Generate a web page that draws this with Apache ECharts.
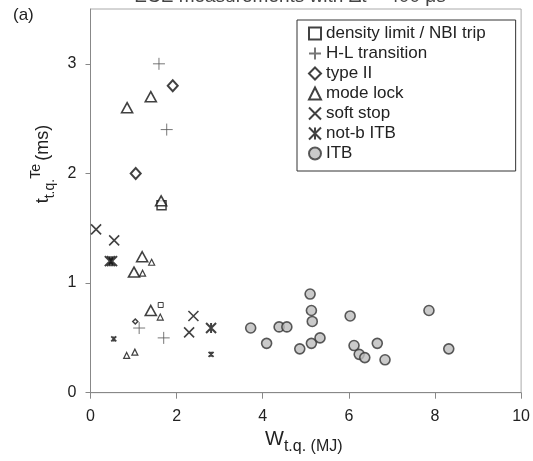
<!DOCTYPE html>
<html><head><meta charset="utf-8">
<script src="https://cdn.jsdelivr.net/npm/echarts@6/dist/echarts.min.js"></script>
<style>html,body{margin:0;padding:0;background:#fff}#c{width:533px;height:461px}</style>
</head><body><div id="c"></div>
<script>
// ---- data (W_tq in MJ, t_tq in ms) ----
const xTicks = [0, 2, 4, 6, 8, 10];
const yTicks = [0, 1, 2, 3];
const legendNames = ['density limit / NBI trip', 'H-L transition', 'type II', 'mode lock', 'soft stop', 'not-b ITB', 'ITB'];

const densityLimit = [[1.65, 1.71]];
const densityLimitSmall = [[1.63, 0.80]];
const hlTransition = [[1.59, 3.0], [1.77, 2.40], [1.13, 0.59], [1.70, 0.50]];
const typeII = [[1.91, 2.80], [1.05, 2.0]];
const typeIISmall = [[1.04, 0.65]];
const modeLock = [[1.40, 2.70], [0.85, 2.60], [1.64, 1.75], [1.20, 1.24], [1.01, 1.10], [1.40, 0.75]];
const modeLockSmall = [[1.42, 1.19], [1.21, 1.09], [1.62, 0.69], [0.84, 0.34], [1.03, 0.37]];
const softStop = [[0.13, 1.49], [0.55, 1.39], [2.39, 0.70], [2.29, 0.55]];
const notBITB = [[0.45, 1.20], [0.50, 1.20], [2.80, 0.59]];
const notBITBSmall = [[0.54, 0.49], [2.80, 0.35]];
const itb = [[3.72, 0.59], [4.09, 0.45], [4.38, 0.60], [4.56, 0.60], [4.86, 0.40], [5.10, 0.90],
  [5.13, 0.75], [5.15, 0.65], [5.13, 0.45], [5.33, 0.50], [6.03, 0.70], [6.12, 0.43],
  [6.24, 0.35], [6.37, 0.32], [6.66, 0.45], [6.84, 0.30], [7.86, 0.75], [8.32, 0.40]];

// ---- chart ----
const FONT = '"Liberation Sans", Arial, sans-serif';
const INK = '#111';
const PLUS = 'path://M0,5L10,5M5,0L5,10';
const CROSS = 'path://M0,0L10,10M10,0L0,10';
const STAR = 'path://M0,0L10,10M10,0L0,10M5,0L5,10';

function sc(name, data, symbol, size, style) {
  return { type: 'scatter', name, data, symbol, symbolSize: size, itemStyle: style,
    emphasis: { disabled: true }, z: 3 };
}
const hollow = (w) => ({ color: '#fff', borderColor: INK, borderWidth: w });
const stroke = (w, c) => ({ color: 'transparent', borderColor: c || INK, borderWidth: w });

const chart = echarts.init(document.getElementById('c'), null, { renderer: 'canvas' });
chart.setOption({
  animation: false,
  backgroundColor: '#fff',
  textStyle: { fontFamily: FONT },
  grid: { left: 90.5, right: 11.5, top: 9, bottom: 68.3, show: true, borderColor: '#aaa', borderWidth: 1 },
  xAxis: {
    type: 'value', min: 0, max: 10, interval: 2,
    splitLine: { show: false },
    axisLine: { lineStyle: { color: '#888', width: 1 } },
    axisTick: { show: true, length: 6, lineStyle: { color: '#888' } },
    axisLabel: { fontSize: 16, color: '#222', margin: 16, fontFamily: FONT,
      customValues: xTicks },
    name: '{w|W}{s|t.q. (MJ)}',
    nameLocation: 'middle', nameGap: 36,
    nameTextStyle: { padding: [0, 4, 0, 0], rich: {
      w: { fontSize: 20, color: '#222', fontFamily: FONT, verticalAlign: 'top', lineHeight: 25 },
      s: { fontSize: 16, color: '#222', fontFamily: FONT, verticalAlign: 'bottom', lineHeight: 25 }
    } }
  },
  yAxis: {
    type: 'value', min: 0, max: 3.5, interval: 1,
    splitLine: { show: false },
    axisLine: { lineStyle: { color: '#888', width: 1 } },
    axisTick: { show: true, length: 5, lineStyle: { color: '#888' }, customValues: yTicks },
    axisLabel: { fontSize: 16, color: '#222', margin: 14, fontFamily: FONT, customValues: yTicks }
  },
  legend: {
    data: legendNames,
    orient: 'vertical', left: 297, top: 20,
    itemWidth: 12, itemHeight: 12, itemGap: 3,
    padding: [5, 30, 9, 11],
    borderColor: '#333', borderWidth: 1,
    backgroundColor: '#fff',
    textStyle: { fontSize: 17, color: '#222', fontFamily: FONT },
    selectedMode: false
  },
  graphic: [
    { type: 'text', left: 13, top: 7, style: { text: '(a)', fontSize: 17, fill: '#222', fontFamily: FONT } },
    { type: 'text', x: 290, y: 6, style: { text: 'ECE measurements with \u0394t = 400 \u03bcs', fontSize: 19,
      fill: '#444', fontFamily: FONT, align: 'center', verticalAlign: 'bottom' } },
    { type: 'text', x: 57, y: 164, rotation: Math.PI / 2,
      style: { text: '{t|t}{s|t.q.}{u|Te} {m|(ms)}', align: 'center', verticalAlign: 'bottom',
        rich: {
          t: { fontSize: 18, fill: '#222', fontFamily: FONT, verticalAlign: 'middle', lineHeight: 28 },
          s: { fontSize: 14, fill: '#222', fontFamily: FONT, verticalAlign: 'bottom', lineHeight: 28 },
          u: { fontSize: 14, fill: '#222', fontFamily: FONT, verticalAlign: 'top', lineHeight: 28 },
          m: { fontSize: 18, fill: '#222', fontFamily: FONT, verticalAlign: 'middle', lineHeight: 28 }
        } } }
  ],
  series: [
    sc('density limit / NBI trip', densityLimit, 'rect', 9, hollow(1.5)),
    sc('density limit (small)', densityLimitSmall, 'rect', 5, hollow(1)),
    sc('H-L transition', hlTransition, PLUS, 12, stroke(1, '#555')),
    sc('type II', typeII, 'diamond', [10, 11], hollow(2)),
    sc('type II (small)', typeIISmall, 'diamond', 5, hollow(1.5)),
    sc('mode lock', modeLock, 'triangle', [11, 10], hollow(1.6)),
    sc('mode lock (small)', modeLockSmall, 'triangle', 6, hollow(1.2)),
    sc('soft stop', softStop, CROSS, 10, stroke(1.6)),
    sc('not-b ITB', notBITB, STAR, 10, stroke(2)),
    sc('not-b ITB (small)', notBITBSmall, STAR, 5, stroke(1.8)),
    sc('ITB', itb, 'circle', 10, { color: '#bdbdbd', borderColor: '#333', borderWidth: 1.6 })
  ]
});
</script></body></html>
